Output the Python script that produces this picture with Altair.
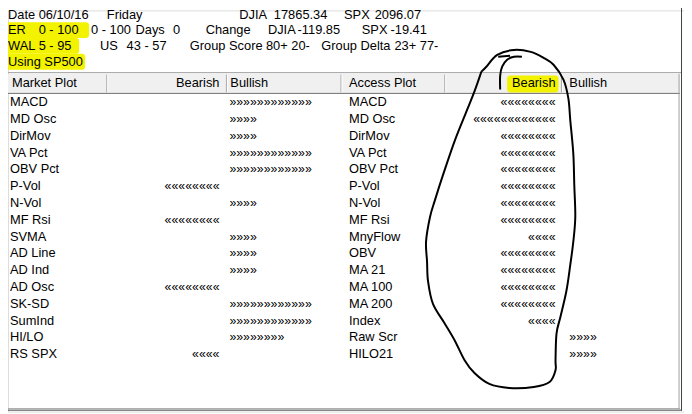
import altair as alt
import pandas as pd

# ---------------- data ----------------
market_indicators = ["MACD", "MD Osc", "DirMov", "VA Pct", "OBV Pct", "P-Vol", "N-Vol", "MF Rsi",
                     "SVMA", "AD Line", "AD Ind", "AD Osc", "SK-SD", "SumInd", "HI/LO", "RS SPX"]
market_signal = [12, 4, 4, 12, 12, -8, 4, -8, 4, 4, 4, -8, 12, 12, 8, -4]

access_indicators = ["MACD", "MD Osc", "DirMov", "VA Pct", "OBV Pct", "P-Vol", "N-Vol", "MF Rsi",
                     "MnyFlow", "OBV", "MA 21", "MA 100", "MA 200", "Index", "Raw Scr", "HILO21"]
access_signal = [-8, -12, -8, -8, -8, -8, -8, -8, -4, -8, -8, -8, -8, -4, 4, 4]

header_line1 = ["Date", "06/10/16", "Friday", "DJIA", "17865.34", "SPX", "2096.07"]
header_line2 = ["ER", "0 - 100", "0 - 100", "Days", "0", "Change", "DJIA", "-119.85", "SPX", "-19.41"]
header_line3 = ["WAL", "5 - 95", "US", "43 - 57", "Group Score", "80+ 20-", "Group Delta", "23+ 77-"]
header_line4 = ["Using SP500"]

column_titles = ["Market Plot", "Bearish", "Bullish", "Access Plot", "Bearish", "Bullish"]

# hand-drawn annotation loop (traced)
loop_x = [487, 480, 472, 460, 448, 440, 435, 431, 432, 433, 438, 450, 460, 470, 480, 495, 515, 540,
          556, 562, 562, 563, 567, 573, 577, 580, 582, 581, 580, 577, 575, 570, 560, 550, 537, 520,
          503, 492, 487]
loop_y = [70, 90, 110, 140, 175, 200, 217, 242, 262, 282, 305, 325, 342, 362, 375, 386, 390, 389,
          384, 372, 362, 335, 318, 292, 265, 242, 217, 185, 153, 120, 97, 78, 63, 56, 50, 48,
          53, 65, 70]
stub_x = [506, 506, 508, 513, 520, 528]
stub_y = [88, 74, 65, 58, 55, 55]
dash_x = [504, 516]
dash_y = [55, 54]

# ---------------- layout ----------------
REF_W, REF_H = 692, 414
OX, OY = 8, 8
FONT = "Liberation Sans"

line_x = [
    [8, 39, 108, 242, 277, 348, 379],
    [8, 39, 92, 137, 175, 208, 271, 301, 366, 395],
    [8, 39, 101, 128, 192, 269, 325, 399],
    [8],
]
line_y = [13, 28, 44, 60]

xs = alt.Scale(domain=[OX, REF_W], nice=False, zero=False)
ys = alt.Scale(domain=[REF_H, OY], nice=False, zero=False)

def X(f="x"):
    return alt.X(f"{f}:Q", scale=xs, axis=None)

def Y(f="y"):
    return alt.Y(f"{f}:Q", scale=ys, axis=None)

# rectangles (background panels / highlights)
rects = pd.DataFrame([
    dict(x=3, x2=688, y=72, y2=92, fill="#f0f0f0"),
    dict(x=5, x2=90, y=20, y2=36, fill="#f3f300"),
    dict(x=5, x2=80, y=36, y2=52, fill="#f3f300"),
    dict(x=5, x2=86, y=52, y2=68, fill="#f3f300"),
    dict(x=513, x2=565, y=74, y2=91, fill="#f3f300"),
])
rect_layer = alt.Chart(rects).mark_rect(cornerRadius=3).encode(
    x=X("x"), x2="x2", y=Y("y"), y2="y2", fill=alt.Fill("fill:N", scale=None))

seps = [108, 229, 345, 450, 568]
rules = pd.DataFrame([
    dict(x=2, x2=689, y=71, y2=71, c="#a0a0a0"),
    dict(x=3, x2=688, y=92, y2=92, c="#707070"),
    dict(x=689.5, x2=689.5, y=0, y2=413, c="#404040"),
    dict(x=0, x2=690, y=412.5, y2=412.5, c="#404040"),
    dict(x=687, x2=687, y=72, y2=411, c="#a0a0a0"),
    dict(x=3, x2=688, y=411, y2=411, c="#a0a0a0"),
] + [dict(x=s, x2=s, y=73, y2=91, c="#a0a0a0") for s in seps]
  + [dict(x=s + 1, x2=s + 1, y=73, y2=91, c="#ffffff") for s in seps])
rule_layer = alt.Chart(rules).mark_rule(strokeWidth=1).encode(
    x=X("x"), x2="x2", y=Y("y"), y2="y2", color=alt.Color("c:N", scale=None))

# top info lines
hdr = []
for li, (texts, xs_) in enumerate(zip([header_line1, header_line2, header_line3, header_line4], line_x)):
    for t, xx in zip(texts, xs_):
        hdr.append(dict(t=t, x=xx, y=line_y[li]))
hdr_layer = alt.Chart(pd.DataFrame(hdr)).mark_text(
    align="left", baseline="middle", font=FONT, fontSize=13, color="black").encode(
    x=X("x"), y=Y("y"), text="t:N")

# column titles
title_x = [12, 222, 233, 353, 562, 576]
title_align = ["left", "right", "left", "left", "right", "left"]
titles = pd.DataFrame(dict(t=column_titles, x=title_x, a=title_align, y=[82] * 6))
tl = alt.Chart(titles[titles.a == "left"]).mark_text(
    align="left", baseline="middle", font=FONT, fontSize=13, color="black").encode(
    x=X("x"), y=Y("y"), text="t:N")
tr = alt.Chart(titles[titles.a == "right"]).mark_text(
    align="right", baseline="middle", font=FONT, fontSize=13, color="black").encode(
    x=X("x"), y=Y("y"), text="t:N")

# rows
ROW0, ROWH = 101, 17
rows = []
for names, sig, name_x, bear_x, bull_x in [
        (market_indicators, market_signal, 10, 222, 232),
        (access_indicators, access_signal, 353, 562, 576)]:
    for i, (n, s) in enumerate(zip(names, sig)):
        y = ROW0 + i * ROWH
        rows.append(dict(kind="name", t=n, x=name_x, y=y))
        if s > 0:
            rows.append(dict(kind="bull", t="\u00bb" * s, x=bull_x, y=y))
        else:
            rows.append(dict(kind="bear", t="\u00ab" * (-s), x=bear_x, y=y))
rows = pd.DataFrame(rows)
name_layer = alt.Chart(rows[rows.kind == "name"]).mark_text(
    align="left", baseline="middle", font=FONT, fontSize=13, color="black").encode(
    x=X("x"), y=Y("y"), text="t:N")
bull_layer = alt.Chart(rows[rows.kind == "bull"]).mark_text(
    align="left", baseline="middle", font=FONT, fontSize=12.5, color="black").encode(
    x=X("x"), y=Y("y"), text="t:N")
bear_layer = alt.Chart(rows[rows.kind == "bear"]).mark_text(
    align="right", baseline="middle", font=FONT, fontSize=12.5, color="black").encode(
    x=X("x"), y=Y("y"), text="t:N")

# annotation strokes
strokes = []
for sid, (px, py) in enumerate([(loop_x, loop_y), (stub_x, stub_y), (dash_x, dash_y)]):
    for k, (a, b) in enumerate(zip(px, py)):
        strokes.append(dict(s=sid, k=k, x=a, y=b))
stroke_layer = alt.Chart(pd.DataFrame(strokes)).mark_line(
    color="black", strokeWidth=2, interpolate="cardinal").encode(
    x=X("x"), y=Y("y"), detail="s:N", order="k:Q")

chart = alt.layer(rect_layer, rule_layer, hdr_layer, tl, tr, name_layer, bull_layer, bear_layer,
                  stroke_layer).properties(
    width=REF_W - OX, height=REF_H - OY, autosize=alt.AutoSizeParams(type="none"), padding=0
).configure_view(stroke=None).configure(background="white")

chart.save("out.html", embed_options={"renderer": "svg", "actions": False})
